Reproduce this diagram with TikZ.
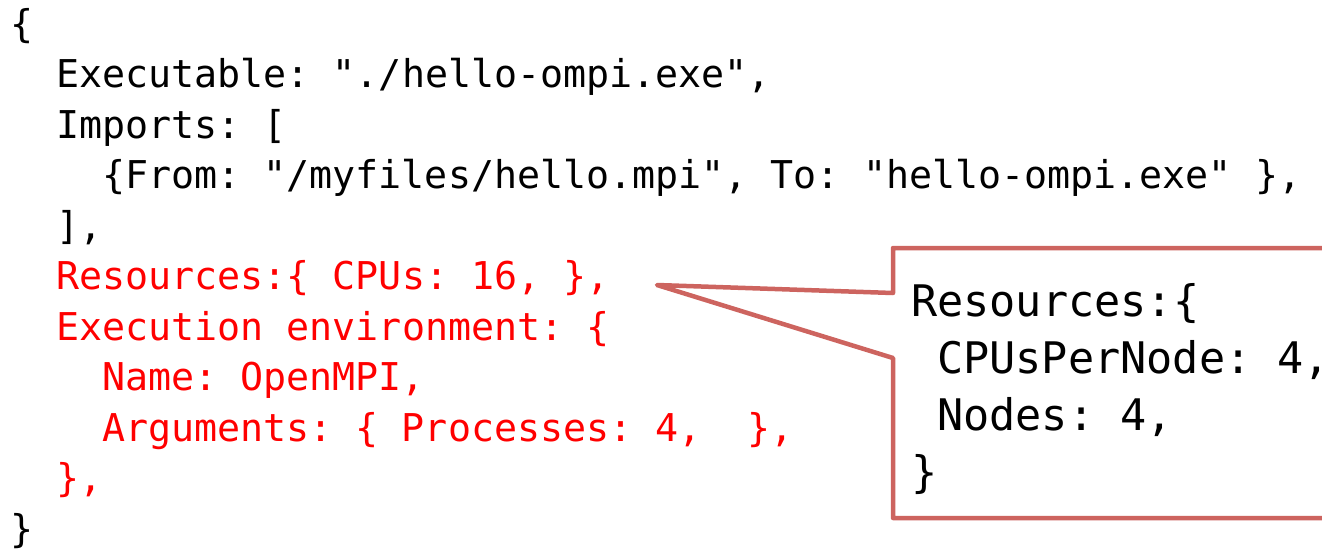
\documentclass[tikz,border=0pt]{standalone}
\usepackage{fontspec}
\setmonofont{DejaVu Sans Mono}
\usetikzlibrary{positioning}
\definecolor{calloutred}{RGB}{205,100,95}
\newcommand{\codefont}{\ttfamily\fontsize{38.3pt}{50pt}\selectfont\frenchspacing}
\newcommand{\notefont}{\ttfamily\fontsize{43.5pt}{57pt}\selectfont\frenchspacing}

\begin{document}
\begin{tikzpicture}[
  x=1pt, y=-1pt,
  code/.style={anchor=base west, inner sep=0pt, font=\codefont},
  hl/.style={code, text=red},
  note/.style={anchor=base west, inner sep=0pt, font=\notefont},
  callout/.style={draw=calloutred, line width=4.5pt, line join=round, fill=white}
]
\useasboundingbox (0,0) rectangle (1322,555);
\clip (0,0) rectangle (1322,555);
% listing
\node[code] (open) at (10,37) {\{};
\node[code] (exe) at (56,87.5) {Executable: "./hello-ompi.exe",};
\node[code] (imp) at (56,138) {Imports: [};
\node[code] (from) at (102,188.5) {\{From: "/myfiles/hello.mpi", To: "hello-ompi.exe" \},};
\node[code] (impend) at (56,239) {],};
\node[hl] (res) at (56,289.5) {Resources:\{ CPUs: 16, \},};
\node[hl] (env) at (56,340) {Execution environment: \{};
\node[hl] (name) at (102,390.5) {Name: OpenMPI,};
\node[hl] (args) at (102,441) {Arguments: \{ Processes: 4,\ \ \},};
\node[hl] (envend) at (56,491.5) {\},};
\node[code] (close) at (10,542) {\}};
% callout
\coordinate (tip) at (657,285);
\draw[callout] (893,248) -- (1340,248) -- (1340,518) -- (893,518) -- (893,358)
  -- (tip) -- (893,293) -- cycle;
\node[note] (nres) at (911,316) {Resources:\{};
\node[note] (ncpu) at (937,373) {CPUsPerNode: 4,};
\node[note] (nnodes) at (937,430) {Nodes: 4,};
\node[note] (nend) at (911,487) {\}};
\end{tikzpicture}
\end{document}
